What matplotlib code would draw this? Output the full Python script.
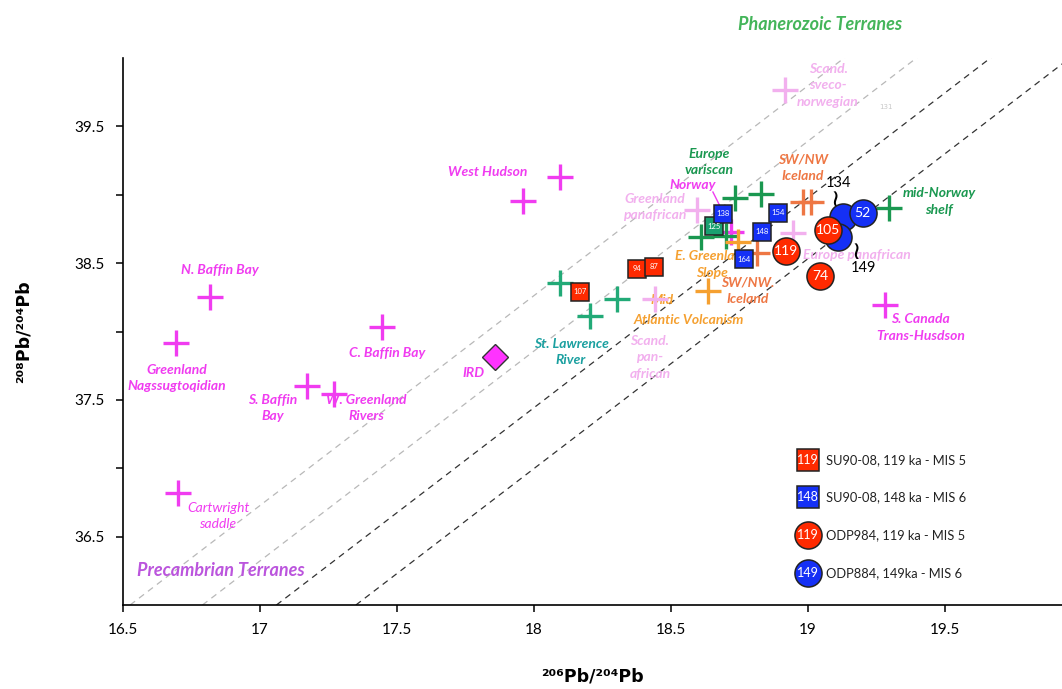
import numpy as np
import matplotlib
matplotlib.use("Agg")
import matplotlib.pyplot as plt

# colours
MAG = "#f03cf0"
PINK = "#f2b0ee"
GREEN = "#1a9850"
TEAL = "#22aa77"
ORANGE = "#f5a030"
DKORANGE = "#ee7744"
RED = "#ff2a00"
BLUE = "#1530f5"
LFONT = "Lato"

# source-area crosses (206Pb/204Pb, 208Pb/204Pb)
mag_x = [16.818, 16.693, 17.445, 17.17, 17.27, 16.70, 18.095, 17.96, 19.28, 18.72]
mag_y = [38.253, 37.917, 38.034, 37.60, 37.54, 36.82, 39.13, 38.955, 38.195, 38.73]

pink_x = [18.916, 18.595, 18.945, 18.44]
pink_y = [39.767, 38.89, 38.72, 38.24]

green_x = [18.734, 18.828, 18.61, 18.70, 19.296]
green_y = [38.977, 39.007, 38.69, 38.70, 38.904]

teal_x = [18.095, 18.204, 18.303]
teal_y = [38.355, 38.114, 38.24]

orange_x = [18.745, 18.635]
orange_y = [38.655, 38.297]

dkorange_x = [18.98, 19.01, 18.814]
dkorange_y = [38.95, 38.95, 38.575]

# IRD
ird_x = [17.858]
ird_y = [37.814]

# SU90-08 samples (squares)
su_red_x = [18.168, 18.376, 18.438]
su_red_y = [38.29, 38.458, 38.473]
su_red_lab = ["107", "94", "87"]

su_green_x = [18.657]
su_green_y = [38.77]
su_green_lab = ["125"]

su_blue_x = [18.69, 18.89, 18.832, 18.766]
su_blue_y = [38.86, 38.868, 38.729, 38.53]
su_blue_lab = ["138", "154", "148", "164"]

# ODP samples (circles)
odp_blue_x = [19.128, 19.11, 19.20]
odp_blue_y = [38.84, 38.69, 38.868]
odp_blue_lab = ["", "", "52"]

odp_red_x = [18.92, 19.073, 19.044]
odp_red_y = [38.59, 38.743, 38.407]
odp_red_lab = ["119", "105", "74"]

# mixing / reference lines: 206Pb/204Pb where each meets 208Pb/204Pb = 36
ref_x0 = [16.526, 16.79, 17.06, 17.35]
ref_col = ["#b8b8b8", "#b8b8b8", "#333333", "#333333"]
ref_slope = 1.535

fig = plt.figure(figsize=(10.62, 6.89), dpi=100)
ax = fig.add_axes([0.1158, 0.1219, 0.8842, 0.7939])
ax.set_xlim(16.5, 19.927)
ax.set_ylim(36.0, 40.0)

for x0, c in zip(ref_x0, ref_col):
    xs = np.array([x0, x0 + 4.2 / ref_slope])
    ax.plot(xs, 36.0 + ref_slope * (xs - x0), ls=(0, (5, 4)), lw=0.9, color=c, zorder=1)

cross = dict(marker="+", ms=19, mew=2.4, ls="none", zorder=3)
ax.plot(pink_x, pink_y, color=PINK, **cross)
ax.plot(mag_x, mag_y, color=MAG, **cross)
ax.plot(green_x, green_y, color=GREEN, **cross)
ax.plot(teal_x, teal_y, color=TEAL, **cross)
ax.plot(orange_x, orange_y, color=ORANGE, **cross)
ax.plot(dkorange_x, dkorange_y, color=DKORANGE, **cross)

ax.plot(ird_x, ird_y, marker="D", ms=13.5, mfc="#ff33ff", mec="#333333", mew=1, ls="none", zorder=4)


def labelled(xs, ys, labs, color, marker, ms, fs, z):
    for x, y, t in zip(xs, ys, labs):
        ax.plot(x, y, marker=marker, ms=ms, mfc=color, mec="#222222", mew=1.1, zorder=z)
        if t:
            ax.text(x, y, t, color="white", fontsize=fs, ha="center", va="center",
                    family=LFONT, zorder=z + 0.01)
        z += 0.02


labelled(su_red_x, su_red_y, su_red_lab, RED, "s", 13.5, 5.5, 5)
labelled(su_green_x, su_green_y, su_green_lab, "#1aa070", "s", 13.5, 5.5, 5)
labelled(su_blue_x, su_blue_y, su_blue_lab, BLUE, "s", 13.5, 5.5, 5)
labelled(odp_blue_x, odp_blue_y, odp_blue_lab, BLUE, "o", 19.5, 10, 6)
labelled(odp_red_x, odp_red_y, odp_red_lab, RED, "o", 19.5, 10, 7)

# text labels
lab = dict(fontsize=10, style="italic", weight="bold", family=LFONT,
           ha="center", va="center", linespacing=1.45, zorder=2)
labels = [
    ("N. Baffin Bay", 16.854, 38.45, MAG),
    ("Greenland\nNagssugtoqidian", 16.697, 37.66, MAG),
    ("C. Baffin Bay", 17.464, 37.84, MAG),
    ("S. Baffin\nBay", 17.047, 37.44, MAG),
    ("W. Greenland\nRivers", 17.387, 37.44, MAG),
    ("West Hudson", 17.832, 39.17, MAG),
    ("IRD", 17.781, 37.70, MAG),
    ("St. Lawrence\nRiver", 18.135, 37.85, "#1ba0a0"),
    ("Scand.\npan-\nafrican", 18.423, 37.81, PINK),
    ("Mid", 18.467, 38.23, ORANGE),
    ("Atlantic Volcanism", 18.566, 38.085, ORANGE),
    ("E. Greenland\nSlope", 18.65, 38.49, ORANGE),
    ("SW/NW.\nIceland", 18.781, 38.30, DKORANGE),
    ("Europe\nvariscan", 18.639, 39.24, GREEN),
    ("Norway", 18.58, 39.07, MAG),
    ("Greenland\npanafrican", 18.44, 38.91, PINK),
    ("SW/NW\nIceland", 18.982, 39.197, DKORANGE),
    ("Europe panafrican", 19.18, 38.56, PINK),
    ("mid-Norway\nshelf", 19.478, 38.95, GREEN),
    ("S. Canada\nTrans-Husdson", 19.41, 38.03, MAG),
    ("Scand.\nsveco-\nnorwegian", 19.073, 39.80, PINK),
]
for t, x, y, c in labels:
    ax.text(x, y, t, color=c, **lab)

ax.text(16.847, 36.65, "Cartwright\nsaddle", color=MAG, fontsize=10, style="italic",
        family=LFONT, ha="center", va="center", linespacing=1.4, zorder=2)
ax.plot([18.653, 18.693], [39.02, 38.86], color=MAG, lw=1, zorder=2)
ax.text(19.285, 39.643, "131", color="#c8c8c8", fontsize=5, ha="center", va="center")

ax.text(16.551, 36.256, "Precambrian Terranes", color="#bb55dd", fontsize=13,
        style="italic", weight="bold", family=LFONT, ha="left", va="center")
ax.text(19.044, 40.243, "Phanerozoic Terranes", color="#44b55a", fontsize=13,
        style="italic", weight="bold", family=LFONT, ha="center", va="center",
        clip_on=False)

# outside labels for ODP884 circles
ax.text(19.11, 39.087, "134", fontsize=10.5, family=LFONT, ha="center", va="center")
ax.text(19.10, 38.96, "\u2240", fontsize=18, ha="center", va="center", family="DejaVu Sans")
ax.text(19.204, 38.465, "149", fontsize=10.5, family=LFONT, ha="center", va="center")
ax.text(19.175, 38.58, "\u2240", fontsize=18, ha="center", va="center", family="DejaVu Sans")

# legend
leg_rows = [
    ("s", RED, "119", "SU90-08, 119 ka - MIS 5"),
    ("s", BLUE, "148", "SU90-08, 148 ka - MIS 6"),
    ("o", RED, "119", "ODP984, 119 ka - MIS 5"),
    ("o", BLUE, "149", "ODP884, 149ka - MIS 6"),
]
leg_y = [0.265, 0.197, 0.128, 0.0585]
for (m, c, num, txt), yy in zip(leg_rows, leg_y):
    ms = 15.5 if m == "s" else 19.5
    ax.plot(0.7295, yy, marker=m, ms=ms, mfc=c, mec="#222222", mew=1.1,
            transform=ax.transAxes, zorder=8)
    ax.text(0.7295, yy, num, color="white", fontsize=9, family=LFONT,
            ha="center", va="center", transform=ax.transAxes, zorder=9)
    ax.text(0.7485, yy, txt, color="#222222", fontsize=9.3, family=LFONT,
            ha="left", va="center", transform=ax.transAxes)

# axes styling
for s in ["top", "right"]:
    ax.spines[s].set_visible(False)
for s in ["left", "bottom"]:
    ax.spines[s].set_linewidth(1.2)
ax.set_xticks([16.5, 17, 17.5, 18, 18.5, 19, 19.5])
ax.set_xticklabels(["16.5", "17", "17.5", "18", "18.5", "19", "19.5"])
ax.set_yticks([36.5, 37, 37.5, 38, 38.5, 39, 39.5])
ax.set_yticklabels(["36.5", "", "37.5", "", "38.5", "", "39.5"])
ax.tick_params(labelsize=11, length=5, width=1.1, pad=8)
for t in ax.get_xticklabels() + ax.get_yticklabels():
    t.set_family(LFONT)

ax.set_xlabel("\u00b2\u2070\u2076Pb/\u00b2\u2070\u2074Pb", fontsize=12.5, weight="bold",
              family="DejaVu Sans", labelpad=22)
ax.set_ylabel("\u00b2\u2070\u2078Pb/\u00b2\u2070\u2074Pb", fontsize=12.5, weight="bold",
              family="DejaVu Sans", labelpad=30)

fig.savefig("out.png", dpi=100)
